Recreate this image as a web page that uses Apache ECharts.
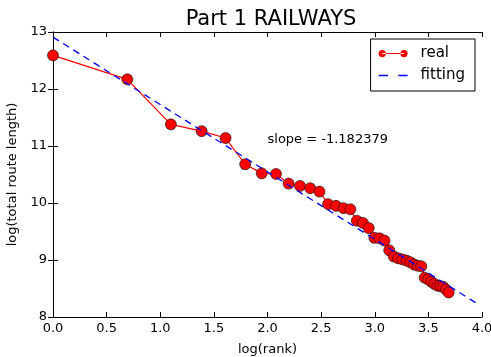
<!DOCTYPE html>
<html><head><meta charset="utf-8">
<script src="https://cdn.jsdelivr.net/npm/echarts@6/dist/echarts.min.js"></script>
<style>html,body{margin:0;padding:0;background:#fff}#c{width:491px;height:357px}</style>
</head><body><div id="c"></div>
<script>
const logRank = [0.000,0.693,1.099,1.386,1.609,1.792,1.946,2.079,2.197,2.303,2.398,2.485,2.565,2.639,2.708,2.773,2.833,2.890,2.944,2.996,3.045,3.091,3.135,3.178,3.219,3.258,3.296,3.332,3.367,3.401,3.434,3.466,3.497,3.526,3.555,3.584,3.611,3.638,3.664,3.689];
const logLength = [12.59,12.17,11.38,11.26,11.14,10.68,10.52,10.51,10.34,10.30,10.26,10.20,9.98,9.95,9.91,9.89,9.69,9.65,9.56,9.39,9.38,9.34,9.17,9.06,9.03,9.01,8.99,8.96,8.92,8.90,8.89,8.69,8.66,8.62,8.58,8.55,8.54,8.53,8.48,8.43];
const fitX = [0.0, 3.95];
const fitY = [12.91, 8.24];
const slopeText = 'slope = -1.182379';
const slopePos = [2.0, 11.0];

const F = 'DejaVu Sans';
const chart = echarts.init(document.getElementById('c'));
const axisCommon = {
  axisLine:{show:true,lineStyle:{color:'#000',width:1}},
  axisTick:{show:true,inside:true,length:5,lineStyle:{color:'#000'}},
  splitLine:{show:false}
};
chart.setOption({
  animation:false,
  title:{text:'Part 1 RAILWAYS',left:266,top:4,textAlign:'center',
    textStyle:{fontFamily:F,fontSize:21,fontWeight:'normal',color:'#000'}},
  grid:{left:53,right:9,top:32,bottom:40,outerBoundsMode:'none',containLabel:false},
  legend:{right:16,top:39,orient:'vertical',itemGap:7,itemWidth:29,itemHeight:10,
    padding:[7,10,8,8],borderColor:'#000',borderWidth:1,backgroundColor:'#fff',
    textStyle:{fontFamily:F,fontSize:15,color:'#000',padding:[0,0,0,8]},
    data:[
      {name:'real',itemStyle:{borderWidth:0},
        icon:'path://M0,5a5,5 0 1,0 10,0a5,5 0 1,0 -10,0ZM30,5a5,5 0 1,0 10,0a5,5 0 1,0 -10,0ZM5,4.4L35,4.4L35,5.6L5,5.6Z'},
      {name:'fitting',itemStyle:{borderWidth:0},
        icon:'path://M4,4.3L14,4.3L14,5.7L4,5.7ZM25,4.3L35,4.3L35,5.7L25,5.7Z'}
    ]},
  xAxis:[
    Object.assign({type:'value',min:0,max:4,interval:0.5,position:'bottom',
      name:'log(rank)',nameLocation:'middle',nameGap:26,
      nameTextStyle:{fontFamily:F,fontSize:13,color:'#000'},
      axisLabel:{fontFamily:F,fontSize:13,color:'#000',margin:5,
        formatter:v=>v.toFixed(1)}},axisCommon),
    Object.assign({type:'value',min:0,max:4,interval:0.5,position:'top',axisLabel:{show:false}},axisCommon)
  ],
  yAxis:[
    Object.assign({type:'value',min:8,max:13,interval:1,position:'left',
      name:'log(total route length)',nameLocation:'middle',nameGap:31,
      nameTextStyle:{fontFamily:F,fontSize:13,color:'#000'},
      axisLabel:{fontFamily:F,fontSize:13,color:'#000',margin:6}},axisCommon),
    Object.assign({type:'value',min:8,max:13,interval:1,position:'right',axisLabel:{show:false}},axisCommon)
  ],
  series:[
    {name:'real',type:'line',data:logRank.map((x,i)=>[x,logLength[i]]),
      color:'#ff0000',lineStyle:{color:'#ff0000',width:1.2},
      symbol:'circle',symbolSize:11,
      itemStyle:{color:'#ff0000',borderColor:'#000',borderWidth:0.6},z:3},
    {name:'fitting',type:'line',data:fitX.map((x,i)=>[x,fitY[i]]),
      color:'#0000ff',showSymbol:false,symbol:'none',
      lineStyle:{color:'#0000ff',width:1.3,type:[7,5]},z:4}
  ]
});
const p = chart.convertToPixel({xAxisIndex:0,yAxisIndex:0}, slopePos);
chart.setOption({graphic:[{type:'text',left:p[0],top:p[1]-13,
  style:{text:slopeText,fontFamily:F,fontSize:13,fill:'#000'}}]});
</script></body></html>
